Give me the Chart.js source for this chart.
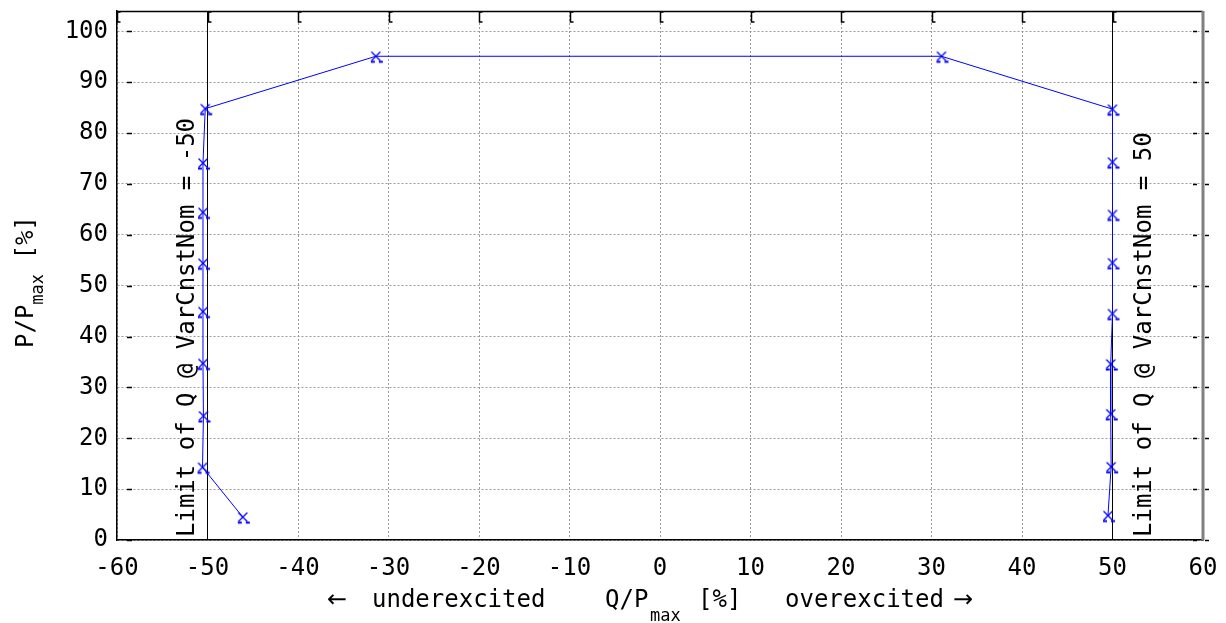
<!DOCTYPE html>
<html><head><meta charset="utf-8">
<script src="https://cdn.jsdelivr.net/npm/chart.js@4/dist/chart.umd.min.js"></script>
<style>html,body{margin:0;padding:0;background:#fff;overflow:hidden}</style>
</head><body>
<canvas id="c" width="1226" height="623"></canvas>
<script>
// ---- data ----
const qValues = [-46.1, -50.55, -50.45, -50.5, -50.5, -50.5, -50.5, -50.5, -50.25, -31.4, 31.1, 50.0, 50.0, 50.0, 50.0, 50.0, 49.8, 49.8, 49.85, 49.5];
const pValues = [4.5, 14.3, 24.4, 34.7, 44.9, 54.4, 64.4, 74.1, 84.8, 95.1, 95.1, 84.7, 74.3, 64.0, 54.5, 44.5, 34.6, 24.8, 14.4, 4.8];
const limitQ = [-50, 50];
const limitLabels = ['Limit of Q @ VarCnstNom = -50', 'Limit of Q @ VarCnstNom = 50'];
const xTickValues = [-60, -50, -40, -30, -20, -10, 0, 10, 20, 30, 40, 50, 60];
const yTickValues = [0, 10, 20, 30, 40, 50, 60, 70, 80, 90, 100];
const xMin = -60, xMax = 60;
const yMin = 0, yMax = 104;

const FONT = '"DejaVu Sans Mono", "Liberation Mono", monospace';
const ARROWFONT = '"DejaVu Sans", sans-serif';
const FS = 24;

function makeMarker(){
  const c = document.createElement('canvas'); c.width = 22; c.height = 22;
  const g = c.getContext('2d');
  g.strokeStyle = '#0000ff'; g.lineWidth = 1.3;
  g.beginPath(); g.moveTo(6.5,6.5); g.lineTo(15.5,15.5); g.moveTo(15.5,6.5); g.lineTo(6.5,15.5); g.stroke();
  g.lineWidth = 2;
  g.beginPath(); g.moveTo(6,16.5); g.lineTo(10,16.5); g.moveTo(14,16.5); g.lineTo(18,16.5); g.stroke();
  return c;
}
const marker = makeMarker();

const mainData = qValues.map((q,i)=>({x:q, y:pValues[i]}));
const limitSets = limitQ.map(q=>({
  data:[{x:q,y:yMin},{x:q,y:yMax}], borderColor:'#000', borderWidth:1, pointRadius:0, showLine:true, order:2
}));

const decor = {
  id:'decor',
  afterDraw(chart){
    const {ctx, chartArea:a, scales:{x, y}} = chart;
    ctx.save();
    // frame
    ctx.strokeStyle = '#000'; ctx.lineWidth = 1.5;
    ctx.beginPath(); ctx.moveTo(a.left, a.top+0.5); ctx.lineTo(a.right, a.top+0.5); ctx.stroke();
    ctx.strokeStyle = '#808080'; ctx.lineWidth = 3;
    ctx.beginPath(); ctx.moveTo(a.right, a.top); ctx.lineTo(a.right, a.bottom); ctx.stroke();
    // small tick marks
    ctx.strokeStyle = '#000'; ctx.lineWidth = 1.5;
    y.ticks.forEach(t=>{
      const py = Math.round(y.getPixelForValue(t.value))+0.5;
      ctx.beginPath();
      ctx.moveTo(a.left+10, py); ctx.lineTo(a.left+15, py);
      ctx.moveTo(a.right-10, py); ctx.lineTo(a.right-6, py);
      ctx.moveTo(a.right+2, py); ctx.lineTo(a.right+6, py);
      ctx.stroke();
    });
    x.ticks.forEach(t=>{
      if (t.value >= xMax) return;
      const px = Math.round(x.getPixelForValue(t.value))+0.5;
      ctx.beginPath();
      ctx.moveTo(px+3, a.top+1); ctx.lineTo(px, a.top+1); ctx.lineTo(px, a.top+11); ctx.lineTo(px+3, a.top+11);
      ctx.stroke();
    });
    // limit labels
    ctx.fillStyle = '#000';
    ctx.font = FS + 'px ' + FONT;
    ctx.textAlign = 'left'; ctx.textBaseline = 'alphabetic';
    const offs = [-14, 38];
    limitQ.forEach((q,i)=>{
      const px = x.getPixelForValue(q) + offs[i];
      ctx.save(); ctx.translate(px, a.bottom-3); ctx.rotate(-Math.PI/2);
      ctx.fillText(limitLabels[i], 0, 0); ctx.restore();
    });
    // x title
    const cx = (a.left + a.right)/2;
    const base = 607;
    const pieces = [['\u2190',-333,ARROWFONT],['underexcited',-288,FONT],['Q/P',-55,FONT],['[%]',38,FONT],['overexcited',125,FONT],['\u2192',293,ARROWFONT]];
    pieces.forEach(p=>{ ctx.font = FS+'px '+p[2]; ctx.fillText(p[0], cx+p[1], base); });
    ctx.font = '17px ' + FONT; ctx.fillText('max', cx-10, base+14);
    // y title
    ctx.save(); ctx.translate(33, 348); ctx.rotate(-Math.PI/2);
    ctx.font = FS+'px '+FONT; ctx.fillText('P/P', 0, 0);
    let w = ctx.measureText('P/P').width;
    ctx.font = '17px '+FONT; ctx.fillText('max', w, 10);
    let w2 = ctx.measureText('max').width;
    ctx.font = FS+'px '+FONT; ctx.fillText(' [%]', w + w2, 0);
    ctx.restore();
    ctx.restore();
  }
};

new Chart(document.getElementById('c'), {
  type:'scatter',
  data:{ datasets:[
    { data: mainData, borderColor:'#0000ff', borderWidth:1, showLine:true, pointStyle: marker, pointRadius:8, order:1 },
    ...limitSets
  ]},
  options:{
    responsive:false, animation:false, devicePixelRatio:1,
    layout:{ padding:{ left:0, right:23, top:11, bottom:0 } },
    plugins:{ legend:{display:false}, tooltip:{enabled:false} },
    scales:{
      x:{ type:'linear', min:xMin, max:xMax,
        ticks:{ font:{family:FONT, size:FS}, color:'#000', padding:14, maxRotation:0 },
        grid:{ color:'#9a9a9a', lineWidth:1, drawTicks:false },
        border:{ display:true, color:'#000', width:1.5, dash:[2,2] },
        afterBuildTicks(s){ s.ticks = xTickValues.map(v=>({value:v})); },
        afterFit(s){ s.height = 83; s.paddingLeft = 0; s.paddingRight = 0; }
      },
      y:{ type:'linear', min:yMin, max:yMax,
        ticks:{ font:{family:FONT, size:FS}, color:'#000', padding:9 },
        grid:{ color:'#9a9a9a', lineWidth:1, drawTicks:false },
        border:{ display:true, color:'#000', width:1.5, dash:[2,2] },
        afterBuildTicks(s){ s.ticks = yTickValues.map(v=>({value:v})); },
        afterFit(s){ s.width = 117; s.paddingTop = 0; s.paddingBottom = 0; }
      }
    }
  },
  plugins:[decor]
});
</script>
</body></html>
